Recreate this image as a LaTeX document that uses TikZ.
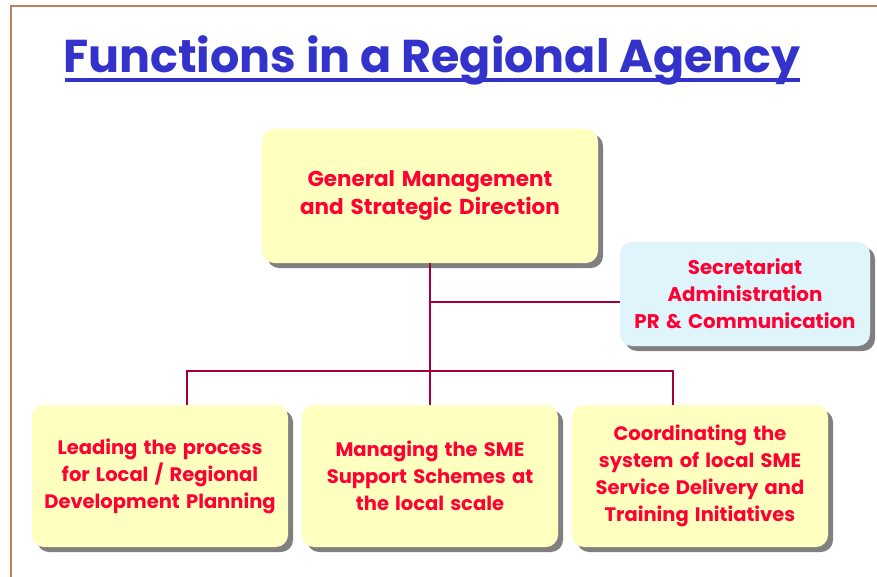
\documentclass[tikz,border=0pt]{standalone}
\usepackage{fontspec}
\setmainfont{Poppins}[WordSpace=1.5]
\usetikzlibrary{shadows}
\definecolor{titleblue}{HTML}{3333CC}
\definecolor{textred}{HTML}{FF0033}
\definecolor{linered}{HTML}{A0003C}
\definecolor{framebrown}{HTML}{C08060}
\definecolor{boxyellow}{HTML}{FFFFC0}
\definecolor{boxblue}{HTML}{E0F4FC}
\tikzset{
  fbox/.style={rectangle, rounded corners=12pt, fill=boxyellow, align=center,
    text=textred, font=\bfseries\fontsize{19.5}{27}\selectfont,
    drop shadow={shadow xshift=5pt, shadow yshift=-5pt, fill=black!50, opacity=1}},
  conn/.style={draw=linered, line width=2pt}
}
\begin{document}
\begin{tikzpicture}[x=1pt,y=-1pt]
\useasboundingbox (0,0) rectangle (877,577);
\draw[framebrown, line width=1.5pt] (11,577) -- (11,6) -- (877,6);
\node[text=titleblue, font=\fontspec{Poppins}\bfseries\fontsize{46}{50}\selectfont, anchor=base] (title) at (432,73) {Functions in a Regional Agency};
\fill[titleblue] (65,78) rectangle (800,82);
\node[fbox, font=\bfseries\fontsize{21.5}{28}\selectfont, minimum width=336pt, minimum height=134pt] (top) at (430,196) {General Management\\and Strategic Direction};
\node[fbox, font=\bfseries\fontsize{19.8}{27}\selectfont, fill=boxblue, minimum width=250pt, minimum height=104pt] (sec) at (745,294) {Secretariat\\Administration\\PR \& Communication};
\node[fbox, minimum width=256pt, minimum height=142pt] (left) at (160,476) {Leading the process\\for Local / Regional\\Development Planning};
\node[fbox, minimum width=256pt, minimum height=142pt] (mid) at (430,476) {Managing the SME\\Support Schemes at\\the local scale};
\node[fbox, minimum width=256pt, minimum height=142pt] (right) at (700,476) {Coordinating the\\system of local SME\\Service Delivery and\\Training Initiatives};
\coordinate (j1) at (430,302);
\coordinate (j2) at (430,371);
\draw[conn] (top.south) -- (mid.north);
\draw[conn] (j1) -- (sec.west |- j1);
\draw[conn] (left.north -| 187,0) -- (187,371) -- (673,371) -- (right.north -| 673,0);
\end{tikzpicture}
\end{document}
